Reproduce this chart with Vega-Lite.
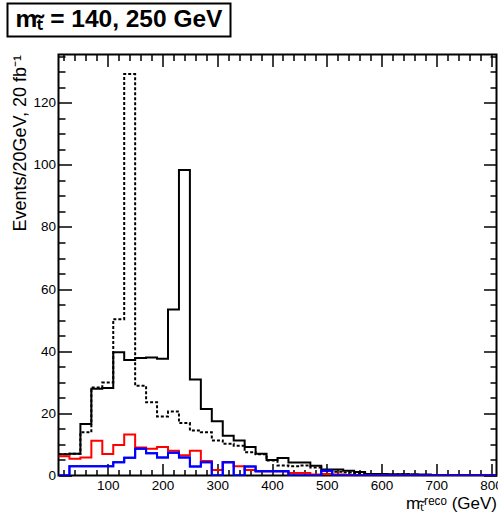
{
  "$schema": "https://vega.github.io/schema/vega-lite/v6.json",
  "padding": {"left": 6.5, "top": 2.5, "right": 0, "bottom": 0},
  "autosize": {"type": "pad"},
  "config": {
    "view": {"stroke": "black", "strokeWidth": 2},
    "font": "Liberation Sans",
    "axis": {"labelFont": "Liberation Sans", "titleFont": "Liberation Sans", "grid": false, "labelColor": "black", "titleColor": "black", "tickColor": "black", "domain": false, "tickWidth": 1.5}
  },
  "datasets": {
    "h": [
      {"s":"sol","g":10,"v":6.8},{"s":"sol","g":30,"v":7.0},{"s":"sol","g":50,"v":16.6},{"s":"sol","g":70,"v":27.9},{"s":"sol","g":90,"v":28.2},{"s":"sol","g":110,"v":39.7},{"s":"sol","g":130,"v":37.2},{"s":"sol","g":150,"v":37.8},{"s":"sol","g":170,"v":38.0},{"s":"sol","g":190,"v":37.6},{"s":"sol","g":210,"v":53.4},{"s":"sol","g":230,"v":98.3},{"s":"sol","g":250,"v":30.9},{"s":"sol","g":270,"v":21.4},{"s":"sol","g":290,"v":17.5},{"s":"sol","g":310,"v":12.8},{"s":"sol","g":330,"v":11.3},{"s":"sol","g":350,"v":9.2},{"s":"sol","g":370,"v":7.0},{"s":"sol","g":390,"v":5.0},{"s":"sol","g":410,"v":5.6},{"s":"sol","g":430,"v":4.2},{"s":"sol","g":450,"v":4.2},{"s":"sol","g":470,"v":3.1},{"s":"sol","g":490,"v":1.9},{"s":"sol","g":510,"v":1.9},{"s":"sol","g":530,"v":1.5},{"s":"sol","g":550,"v":1.1},{"s":"sol","g":570,"v":0.5},{"s":"sol","g":590,"v":0.5},{"s":"sol","g":610,"v":0.4},{"s":"sol","g":630,"v":0.4},{"s":"sol","g":650,"v":0.3},{"s":"sol","g":670,"v":0.3},{"s":"sol","g":690,"v":0.2},{"s":"sol","g":710,"v":0.2},{"s":"sol","g":730,"v":0.1},{"s":"sol","g":750,"v":0.1},{"s":"sol","g":770,"v":0.1},{"s":"sol","g":790,"v":0.1},{"s":"sol","g":810,"v":0.1},
      {"s":"dot","g":10,"v":6.8},{"s":"dot","g":30,"v":7.0},{"s":"dot","g":50,"v":13.9},{"s":"dot","g":70,"v":28.3},{"s":"dot","g":90,"v":29.9},{"s":"dot","g":110,"v":50.3},{"s":"dot","g":130,"v":129.2},{"s":"dot","g":150,"v":28.9},{"s":"dot","g":170,"v":23.6},{"s":"dot","g":190,"v":19.0},{"s":"dot","g":210,"v":20.6},{"s":"dot","g":230,"v":16.9},{"s":"dot","g":250,"v":14.5},{"s":"dot","g":270,"v":13.9},{"s":"dot","g":290,"v":11.3},{"s":"dot","g":310,"v":10.2},{"s":"dot","g":330,"v":9.6},{"s":"dot","g":350,"v":7.5},{"s":"dot","g":370,"v":6.8},{"s":"dot","g":390,"v":4.8},{"s":"dot","g":410,"v":3.2},{"s":"dot","g":430,"v":3.0},{"s":"dot","g":450,"v":3.2},{"s":"dot","g":470,"v":2.6},{"s":"dot","g":490,"v":1.5},{"s":"dot","g":510,"v":1.2},{"s":"dot","g":530,"v":1.0},{"s":"dot","g":550,"v":0.8},{"s":"dot","g":570,"v":0.5},{"s":"dot","g":590,"v":0.4},{"s":"dot","g":610,"v":0.3},{"s":"dot","g":630,"v":0.4},{"s":"dot","g":650,"v":0.3},{"s":"dot","g":670,"v":0.2},{"s":"dot","g":690,"v":0.1},{"s":"dot","g":710,"v":0.1},{"s":"dot","g":730,"v":0.1},{"s":"dot","g":750,"v":0.0},{"s":"dot","g":770,"v":0.1},{"s":"dot","g":790,"v":0.0},{"s":"dot","g":810,"v":0.0},
      {"s":"red","g":10,"v":6.2},{"s":"red","g":30,"v":5.4},{"s":"red","g":50,"v":5.8},{"s":"red","g":70,"v":11.2},{"s":"red","g":90,"v":6.9},{"s":"red","g":110,"v":9.8},{"s":"red","g":130,"v":13.2},{"s":"red","g":150,"v":9.0},{"s":"red","g":170,"v":8.6},{"s":"red","g":190,"v":9.2},{"s":"red","g":210,"v":8.0},{"s":"red","g":230,"v":6.5},{"s":"red","g":250,"v":8.0},{"s":"red","g":270,"v":4.7},{"s":"red","g":290,"v":1.8},{"s":"red","g":310,"v":4.3},{"s":"red","g":330,"v":3.0},{"s":"red","g":350,"v":1.8},{"s":"red","g":370,"v":1.4},{"s":"red","g":390,"v":1.4},{"s":"red","g":410,"v":1.4},{"s":"red","g":430,"v":0.8},{"s":"red","g":450,"v":0.8},{"s":"red","g":470,"v":0.3},{"s":"red","g":490,"v":0.5},{"s":"red","g":510,"v":0.3},{"s":"red","g":530,"v":0.2},{"s":"red","g":550,"v":0.1},{"s":"red","g":570,"v":0.1},{"s":"red","g":590,"v":0.1},{"s":"red","g":610,"v":0.0},{"s":"red","g":630,"v":0.0},{"s":"red","g":650,"v":0.0},{"s":"red","g":670,"v":0.0},{"s":"red","g":690,"v":0.0},{"s":"red","g":710,"v":0.0},{"s":"red","g":730,"v":0.0},{"s":"red","g":750,"v":0.0},{"s":"red","g":770,"v":0.0},{"s":"red","g":790,"v":0.0},{"s":"red","g":810,"v":0.0},
      {"s":"blu","g":10,"v":0.0},{"s":"blu","g":30,"v":3.0},{"s":"blu","g":50,"v":3.0},{"s":"blu","g":70,"v":3.0},{"s":"blu","g":90,"v":3.0},{"s":"blu","g":110,"v":4.3},{"s":"blu","g":130,"v":5.7},{"s":"blu","g":150,"v":8.6},{"s":"blu","g":170,"v":7.2},{"s":"blu","g":190,"v":5.8},{"s":"blu","g":210,"v":7.3},{"s":"blu","g":230,"v":5.8},{"s":"blu","g":250,"v":2.9},{"s":"blu","g":270,"v":4.3},{"s":"blu","g":290,"v":0.0},{"s":"blu","g":310,"v":4.3},{"s":"blu","g":330,"v":0.0},{"s":"blu","g":350,"v":2.9},{"s":"blu","g":370,"v":1.4},{"s":"blu","g":390,"v":1.4},{"s":"blu","g":410,"v":1.4},{"s":"blu","g":430,"v":0.0},{"s":"blu","g":450,"v":0.0},{"s":"blu","g":470,"v":0.0},{"s":"blu","g":490,"v":1.5},{"s":"blu","g":510,"v":0.0},{"s":"blu","g":530,"v":0.0},{"s":"blu","g":550,"v":0.0},{"s":"blu","g":570,"v":0.0},{"s":"blu","g":590,"v":0.0},{"s":"blu","g":610,"v":0.0},{"s":"blu","g":630,"v":0.0},{"s":"blu","g":650,"v":0.0},{"s":"blu","g":670,"v":0.0},{"s":"blu","g":690,"v":0.0},{"s":"blu","g":710,"v":0.0},{"s":"blu","g":730,"v":0.0},{"s":"blu","g":750,"v":0.0},{"s":"blu","g":770,"v":0.0},{"s":"blu","g":790,"v":0.0},{"s":"blu","g":810,"v":0.0}
    ]
  },
  "concat": [
    {
      "width": 223, "height": 33,
      "view": {"stroke": "black", "strokeWidth": 2},
      "data": {"values": [{"t": "mₜ̃ = 140, 250 GeV"}]},
      "mark": {"type": "text", "font": "Liberation Sans", "fontWeight": "bold", "fontSize": 24.5, "color": "black"},
      "encoding": {"text": {"field": "t", "type": "nominal"}}
    },
    {
      "hconcat": [
        {
          "width": 1, "height": 1,
          "data": {"values": []},
          "mark": "point"
        },
        {
          "width": 438, "height": 421,
          "data": {"name": "h"},
          "layer": [
            {
              "transform": [{"filter": "datum.s == 'dot'"}],
              "mark": {"type": "line", "interpolate": "step-after", "color": "black", "strokeWidth": 2, "strokeDash": [3, 2], "clip": true},
              "encoding": {
                "x": {"field": "g", "type": "quantitative", "scale": {"domain": [10, 810], "nice": false, "zero": false},
                      "axis": {"orient": "bottom", "values": [100,200,300,400,500,600,700,800], "ticks": false, "labelFontSize": 13.5, "labelPadding": 3, "labelFlush": false, "title": "mₜ̃ʳᵉᶜᵒ (GeV)", "titleFontSize": 17, "titleFontWeight": "normal", "titleAnchor": "end", "titlePadding": 3}},
                "y": {"field": "v", "type": "quantitative", "scale": {"domain": [0, 135.5], "nice": false},
                      "axis": {"orient": "left", "values": [0,20,40,60,80,100,120], "ticks": false, "labelFontSize": 13.5, "labelPadding": 3, "labelFlush": false, "title": "Events/20GeV, 20 fb⁻¹", "titleFontSize": 18, "titleFontWeight": "normal", "titleAnchor": "end", "titlePadding": 3}}
              }
            },
            {
              "transform": [{"filter": "datum.s == 'sol'"}],
              "mark": {"type": "line", "interpolate": "step-after", "color": "black", "strokeWidth": 2, "clip": true},
              "encoding": {
                "x": {"field": "g", "type": "quantitative", "axis": {"orient": "bottom", "values": [100,200,300,400,500,600,700,800], "labels": false, "tickSize": -12, "title": null}},
                "y": {"field": "v", "type": "quantitative", "axis": {"orient": "left", "values": [0,20,40,60,80,100,120], "labels": false, "tickSize": -13, "title": null}}
              }
            },
            {
              "transform": [{"filter": "datum.s == 'red'"}],
              "mark": {"type": "line", "interpolate": "step-after", "color": "#ff0000", "strokeWidth": 2, "clip": true},
              "encoding": {
                "x": {"field": "g", "type": "quantitative", "axis": {"orient": "bottom", "values": [20,40,60,80,120,140,160,180,220,240,260,280,320,340,360,380,420,440,460,480,520,540,560,580,620,640,660,680,720,740,760,780], "labels": false, "tickSize": -6, "title": null}},
                "y": {"field": "v", "type": "quantitative", "axis": {"orient": "left", "values": [5,10,15,25,30,35,45,50,55,65,70,75,85,90,95,105,110,115,125,130,135], "labels": false, "tickSize": -6.5, "title": null}}
              }
            },
            {
              "transform": [{"filter": "datum.s == 'blu'"}],
              "mark": {"type": "line", "interpolate": "step-after", "color": "#0000ff", "strokeWidth": 2, "clip": true},
              "encoding": {
                "x": {"field": "g", "type": "quantitative", "axis": {"orient": "top", "values": [100,200,300,400,500,600,700,800], "labels": false, "tickSize": -12, "title": null}},
                "y": {"field": "v", "type": "quantitative", "axis": {"orient": "right", "values": [0,20,40,60,80,100,120], "labels": false, "tickSize": -13, "title": null}}
              }
            },
            {
              "transform": [{"filter": "datum.s == 'blu'"}],
              "mark": {"type": "line", "interpolate": "step-after", "color": "#0000ff", "strokeWidth": 2, "clip": true},
              "encoding": {
                "x": {"field": "g", "type": "quantitative", "axis": {"orient": "top", "values": [20,40,60,80,120,140,160,180,220,240,260,280,320,340,360,380,420,440,460,480,520,540,560,580,620,640,660,680,720,740,760,780], "labels": false, "tickSize": -6, "title": null}},
                "y": {"field": "v", "type": "quantitative", "axis": {"orient": "right", "values": [5,10,15,25,30,35,45,50,55,65,70,75,85,90,95,105,110,115,125,130,135], "labels": false, "tickSize": -6.5, "title": null}}
              }
            }
          ],
          "resolve": {"axis": {"x": "independent", "y": "independent"}}
        }
      ],
      "spacing": 2
    }
  ],
  "columns": 1,
  "bounds": "full",
  "spacing": 15
}
